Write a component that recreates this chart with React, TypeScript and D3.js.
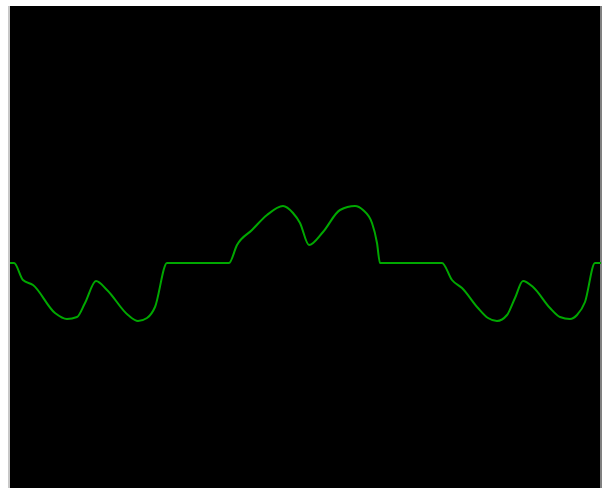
import React from "react";
import * as d3 from "d3";

const sampleIndex = [0, 4, 13, 23, 45, 57, 67, 75, 86, 97, 118, 128, 137, 145, 157, 219, 227, 242, 257, 273, 283, 290, 299, 313, 330, 345, 353, 362, 367, 370, 432, 442, 452, 468, 478, 487, 497, 505, 513, 523, 540, 550, 560, 567, 575, 585, 591];
const amplitude = [0, 0, -17, -22, -50, -56, -54, -40, -18, -27, -52, -58, -55, -44, 0, 0, 18, 33, 48, 57, 50, 40, 18, 31, 53, 57, 53, 40, 20, 0, 0, -17, -25, -45, -55, -58, -52, -35, -18, -24, -45, -54, -56, -52, -39, 0, 0];

export default function App() {
  const W = 603;
  const H = 488;
  const x = d3.scaleLinear().domain([0, 590]).range([10, 600]);
  const y = d3.scaleLinear().domain([-225, 255]).range([488, 8]);
  const pts: [number, number][] = sampleIndex.map((t, i) => [t, amplitude[i]]);
  const line = d3
    .line<[number, number]>()
    .x((d) => x(d[0]))
    .y((d) => y(d[1]))
    .curve(d3.curveMonotoneX);
  return (
    <svg
      width={W}
      height={H}
      style={{ position: "absolute", left: 0, top: 0, display: "block" }}
    >
      <rect x={0} y={0} width={W} height={H} fill="#ffffff" />
      <rect x={8} y={6} width={2} height={H - 6} fill="#c8c8c8" />
      <rect x={600} y={6} width={2} height={H - 6} fill="#808080" />
      <rect x={10} y={6} width={590} height={H - 6} fill="#000000" />
      <path d={line(pts) || ""} fill="none" stroke="#00a800" strokeWidth={2} />
    </svg>
  );
}
